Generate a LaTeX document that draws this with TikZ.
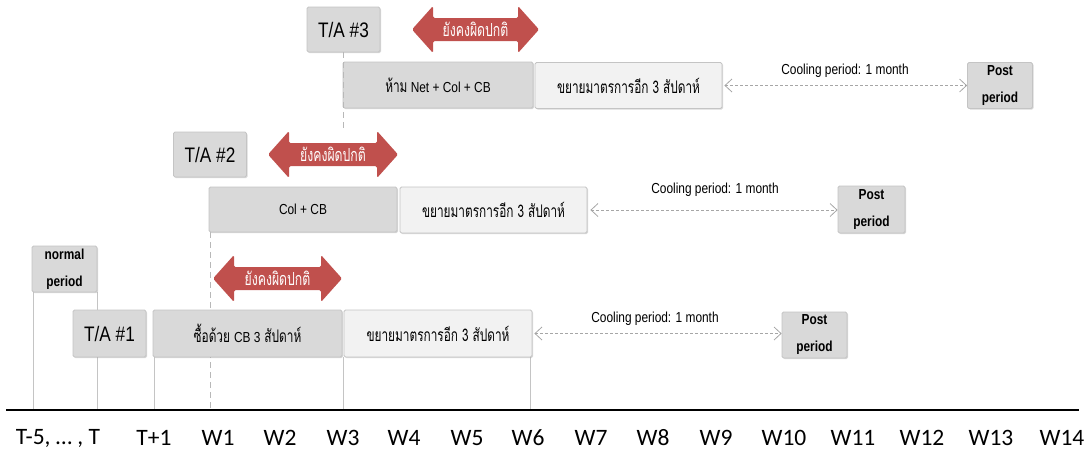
\documentclass[tikz,border=0pt]{standalone}
\usepackage{fontspec}
\setmainfont{Liberation Sans}[FakeStretch=0.82]
\newfontfamily\thai[Script=Thai,FakeStretch=0.68,Scale=1.2]{Loma}
\newfontfamily\axisfont{Carlito}
\usetikzlibrary{arrows.meta,shadows}
\definecolor{boxgray}{HTML}{D9D9D9}
\definecolor{boxlight}{HTML}{F2F2F2}
\definecolor{boxline}{HTML}{C4C4C4}
\definecolor{redarr}{HTML}{C0504D}
\definecolor{dashgray}{HTML}{A6A6A6}
\pgfdeclarelayer{bg}
\pgfsetlayers{bg,main}
\tikzset{
  basebox/.style={draw=boxline, line width=0.8pt, inner sep=0pt, align=center, rounded corners=1.5pt,
    drop shadow={shadow xshift=1pt, shadow yshift=-1pt, opacity=0.25, fill=black!60}},
  graybox/.style={basebox, fill=boxgray},
  lightbox/.style={basebox, fill=boxlight},
  tabox/.style={graybox, minimum width=73pt, minimum height=45pt, font=\fontsize{21}{24}\selectfont},
  mbox/.style={font=\fontsize{14.5}{17}\selectfont},
  postbox/.style={graybox, minimum width=65pt, minimum height=46pt, font=\fontsize{14.5}{27}\selectfont\bfseries},
  coolarrow/.style={draw=dashgray, line width=0.8pt, dash pattern=on 3pt off 2pt,
    {Straight Barb[length=7pt,width=13pt]}-{Straight Barb[length=7pt,width=13pt]}},
  coollabel/.style={font=\fontsize{14.5}{17}\selectfont, inner sep=0pt},
  bracket/.style={draw=boxline, line width=1.1pt},
  guide/.style={draw=dashgray!80, line width=1pt, dash pattern=on 6pt off 4pt},
  redtext/.style={text=white, font=\thai\fontsize{15}{17}\selectfont, inner sep=0pt},
  axislabel/.style={font=\axisfont\fontsize{23.5}{26}\selectfont, inner sep=0pt}
}
\newcommand\RedArr[4]{%
  \fill[redarr, rounded corners=1.5pt] (#1,#3) -- (#1+21,#3-23.5) -- (#1+21,#3-11.5) -- (#2-21,#3-11.5)
    -- (#2-21,#3-23.5) -- (#2,#3) -- (#2-21,#3+23.5) -- (#2-21,#3+11.5) -- (#1+21,#3+11.5)
    -- (#1+21,#3+23.5) -- cycle;
  \node[redtext] (#4) at ({(#1+#2)/2},#3) {ยังคงผิดปกติ};}
\begin{document}
\begin{tikzpicture}[x=1pt,y=-1pt]
\useasboundingbox (0,0) rectangle (1092,459);
% axis
\coordinate (axL) at (6,410);
\coordinate (axR) at (1079,410);
\draw[line width=2.5pt, black] (axL) -- (axR);
% axis labels
\node[axislabel] (lT) at (58,438) {T-5, … , T};
\node[axislabel] (lT1) at (154,438) {T+1};
\node[axislabel] (lW1) at (218,438) {W1};
\node[axislabel] (lW2) at (280,438) {W2};
\node[axislabel] (lW3) at (343,438) {W3};
\node[axislabel] (lW4) at (404,438) {W4};
\node[axislabel] (lW5) at (467,438) {W5};
\node[axislabel] (lW6) at (528,438) {W6};
\node[axislabel] (lW7) at (591,438) {W7};
\node[axislabel] (lW8) at (653,438) {W8};
\node[axislabel] (lW9) at (716,438) {W9};
\node[axislabel] (lW10) at (784,438) {W10};
\node[axislabel] (lW11) at (853,438) {W11};
\node[axislabel] (lW12) at (922,438) {W12};
\node[axislabel] (lW13) at (991,438) {W13};
\node[axislabel] (lW14) at (1062,438) {W14};

% ---- row 3 ----
\node[tabox] (TA3) at (343.5,29.5) {T/A \#3};
\RedArr{412}{539}{29.5}{red3}
\node[graybox, mbox, minimum width=190pt, minimum height=46pt] (b3a) at (438,85)
  {{\thai ห้าม} Net + Col + CB};
\node[lightbox, mbox, minimum width=187pt, minimum height=46pt] (b3b) at (628.5,85.5)
  {\thai ขยายมาตรการอีก 3 สัปดาห์};
\node[postbox] (P3) at (1000,85.5) {Post\\period};
\draw[coolarrow] (b3b.east) ++(2,0) coordinate (c3s) -- (c3s -| P3.west);
\node[coollabel] (cl3) at (845,71) {Cooling period: 1 month};

% ---- row 2 ----
\node[tabox] (TA2) at (210,154.5) {T/A \#2};
\RedArr{268}{398}{154.5}{red2}
\node[graybox, mbox, minimum width=188pt, minimum height=45pt] (b2a) at (303,209.5)
  {Col + CB};
\node[lightbox, mbox, minimum width=187pt, minimum height=46pt] (b2b) at (493.5,210)
  {\thai ขยายมาตรการอีก 3 สัปดาห์};
\node[postbox, minimum width=67pt, minimum height=47pt] (P2) at (871.5,209.5) {Post\\period};
\draw[coolarrow] (b2b.east) ++(3,0) coordinate (c2s) -- (c2s -| P2.west);
\node[coollabel] (cl2) at (715,190) {Cooling period: 1 month};

% ---- row 1 ----
\node[postbox] (NP) at (64.5,269) {normal\\period};
\node[tabox, minimum height=47pt] (TA1) at (109.5,333.5) {T/A \#1};
\RedArr{213}{342}{278.5}{red1}
\node[graybox, mbox, minimum width=189pt, minimum height=47pt] (b1a) at (247.5,333.5)
  {\thai ซื้อด้วย {\rmfamily CB 3} สัปดาห์};
\node[lightbox, mbox, minimum width=188pt, minimum height=47pt] (b1b) at (438,333.5)
  {\thai ขยายมาตรการอีก 3 สัปดาห์};
\node[postbox] (P1) at (814.5,335) {Post\\period};
\draw[coolarrow] (b1b.east) ++(2,0) coordinate (c1s) -- (c1s -| P1.west);
\node[coollabel] (cl1) at (655,319) {Cooling period: 1 month};

% guide lines behind
\begin{pgfonlayer}{bg}
\draw[bracket] ([xshift=2pt]NP.south west) -- ([xshift=2pt]NP.south west |- axL);
\draw[bracket] (NP.south east) -- (NP.south east |- axL);
\draw[bracket] ([xshift=2pt]b1a.south west) -- ([xshift=2pt]b1a.south west |- axL);
\draw[bracket] (b1b.south west) -- (b1b.south west |- axL);
\draw[bracket] ([xshift=-2pt]b1b.south east) -- ([xshift=-2pt]b1b.south east |- axL);
\draw[guide] ([xshift=2pt]b2a.south west) -- ([xshift=2pt]b2a.south west |- axL);
\end{pgfonlayer}
\draw[guide] (TA3.south) -- (TA3.south |- TA2.north);
\end{tikzpicture}
\end{document}
